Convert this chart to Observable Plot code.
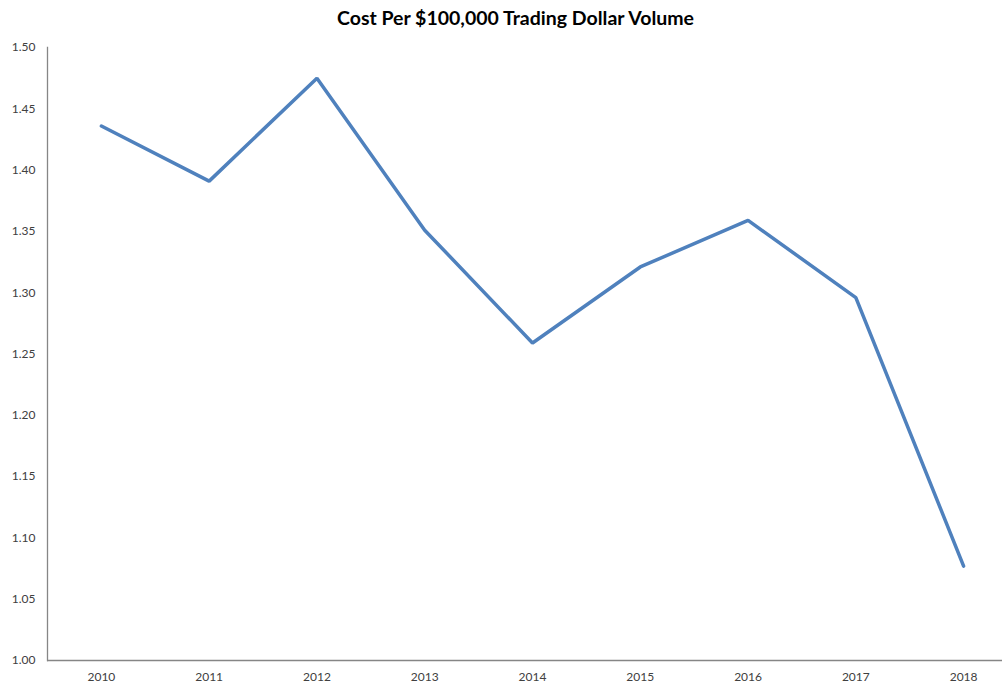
<!DOCTYPE html>
<html>
<head>
<meta charset="utf-8">
<script src="https://cdn.jsdelivr.net/npm/d3@7"></script>
<script src="https://cdn.jsdelivr.net/npm/@observablehq/plot@0.6"></script>
<style>
  html, body { margin: 0; padding: 0; background: #fff; }
  #title { height: 36px; line-height: 36px; text-align: center; padding-left: 26px; font-family: Lato, "Open Sans", sans-serif; font-weight: bold; font-size: 19.5px; color: #000; }
</style>
</head>
<body>
<div id="title">Cost Per $100,000 Trading Dollar Volume</div>
<div id="chart"></div>
<script>
const years = ["2010", "2011", "2012", "2013", "2014", "2015", "2016", "2017", "2018"];
const costs = [1.436, 1.391, 1.475, 1.351, 1.259, 1.321, 1.359, 1.296, 1.077];
const yTicks = [1.00, 1.05, 1.10, 1.15, 1.20, 1.25, 1.30, 1.35, 1.40, 1.45, 1.50];

const data = years.map((y, i) => ({year: y, cost: costs[i]}));

const chart = Plot.plot({
  width: 1005,
  height: 649,
  marginTop: 11,
  marginBottom: 25,
  marginLeft: 47,
  marginRight: 3,
  style: {fontFamily: "Lato, 'Open Sans', sans-serif", fontSize: "12px", color: "#404040", background: "#fff"},
  x: {type: "point", domain: years, range: [47, 1017], round: false, label: null},
  y: {domain: [1.0, 1.5], label: null},
  marks: [
    Plot.axisY({ticks: yTicks, tickFormat: d3.format(".2f"), tickSize: 0, tickPadding: 12, fontSize: 12}),
    Plot.axisX({tickSize: 0, tickPadding: 12, fontSize: 12}),
    Plot.frame({anchor: "left", stroke: "#868686", strokeWidth: 1.3}),
    Plot.ruleY([1.0], {stroke: "#868686", strokeWidth: 1.3}),
    Plot.line(data, {x: "year", y: "cost", stroke: "#4f81bd", strokeWidth: 3.5, strokeLinejoin: "miter"})
  ]
});
document.getElementById("chart").appendChild(chart);
</script>
</body>
</html>
